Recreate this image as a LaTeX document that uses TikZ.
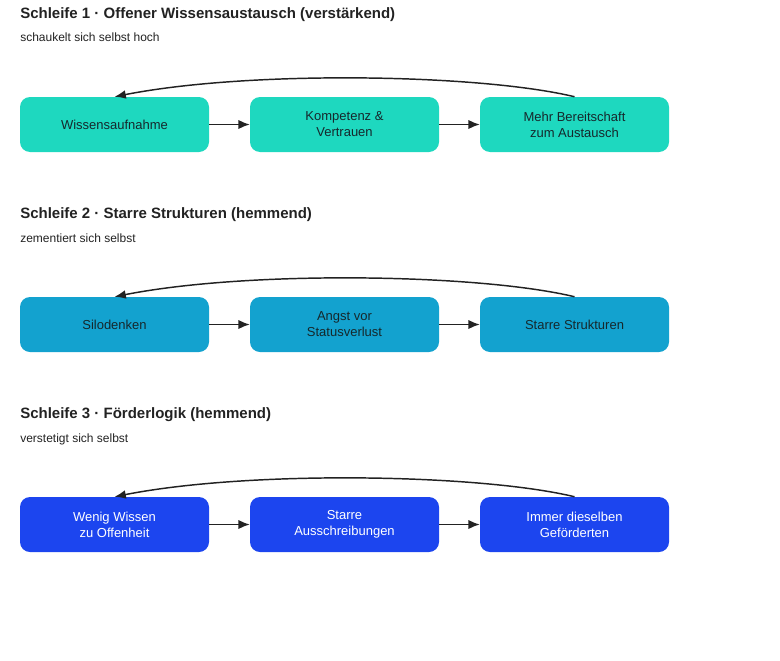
\documentclass[tikz,border=0pt]{standalone}
\usepackage{fontspec}
\setmainfont{Liberation Sans}
\usetikzlibrary{arrows.meta}
\definecolor{tealbox}{RGB}{30,216,191}
\definecolor{cyanbox}{RGB}{19,162,207}
\definecolor{bluebox}{RGB}{28,69,239}
\definecolor{inktext}{RGB}{22,40,44}
\definecolor{inkline}{RGB}{34,34,34}
\begin{document}
\begin{tikzpicture}[
x=0.75pt, y=-0.75pt,
box/.style = {rounded corners=7.5pt, minimum width=141.75pt, minimum height=41.25pt,
              inner sep=2pt, align=center, font=\fontsize{9.75}{12}\selectfont, fill=#1},
title/.style = {anchor=base west, inner sep=0pt, font=\fontsize{11.25}{13}\selectfont\bfseries, text=inkline},
subtitle/.style = {anchor=base west, inner sep=0pt, font=\fontsize{9}{11}\selectfont, text=inkline},
flow/.style = {draw=inkline, line width=1.1pt, -{Latex[length=8.5pt,width=7pt]}},
back/.style = {draw=inkline, line width=1.1pt, -{Latex[length=8.5pt,width=6.5pt]}}
                        ]
\useasboundingbox (0,0) rectangle (780,660);

% Schleife 1
    \node[title] (T1) at (20,18.5) {Schleife 1 · Offener Wissensaustausch (verstärkend)};
    \node[subtitle] (S1) at (20,42) {schaukelt sich selbst hoch};
    \node[box=tealbox, text=inktext] (A1) at (114.5,124.5) {Wissensaufnahme};
    \node[box=tealbox, text=inktext] (B1) at (344.5,124.5) {Kompetenz \&\\Vertrauen};
    \node[box=tealbox, text=inktext] (C1) at (574.5,124.5) {Mehr Bereitschaft\\zum Austausch};
    \draw[flow] (A1) -- (B1);
    \draw[flow] (B1) -- (C1);
    \draw[back] (C1.north) .. controls (480,74) and (250,70) .. (A1.north);

% Schleife 2
    \node[title] (T2) at (20,218.5) {Schleife 2 · Starre Strukturen (hemmend)};
    \node[subtitle] (S2) at (20,242) {zementiert sich selbst};
    \node[box=cyanbox, text=inktext] (A2) at (114.5,324.5) {Silodenken};
    \node[box=cyanbox, text=inktext] (B2) at (344.5,324.5) {Angst vor\\Statusverlust};
    \node[box=cyanbox, text=inktext] (C2) at (574.5,324.5) {Starre Strukturen};
    \draw[flow] (A2) -- (B2);
    \draw[flow] (B2) -- (C2);
    \draw[back] (C2.north) .. controls (480,274) and (250,270) .. (A2.north);

% Schleife 3
    \node[title] (T3) at (20,418.5) {Schleife 3 · Förderlogik (hemmend)};
    \node[subtitle] (S3) at (20,442) {verstetigt sich selbst};
    \node[box=bluebox, text=white] (A3) at (114.5,524.5) {Wenig Wissen\\zu Offenheit};
    \node[box=bluebox, text=white] (B3) at (344.5,524.5) {Starre\\Ausschreibungen};
    \node[box=bluebox, text=white] (C3) at (574.5,524.5) {Immer dieselben\\Geförderten};
    \draw[flow] (A3) -- (B3);
    \draw[flow] (B3) -- (C3);
    \draw[back] (C3.north) .. controls (480,474) and (250,470) .. (A3.north);

\end{tikzpicture}
\end{document}
